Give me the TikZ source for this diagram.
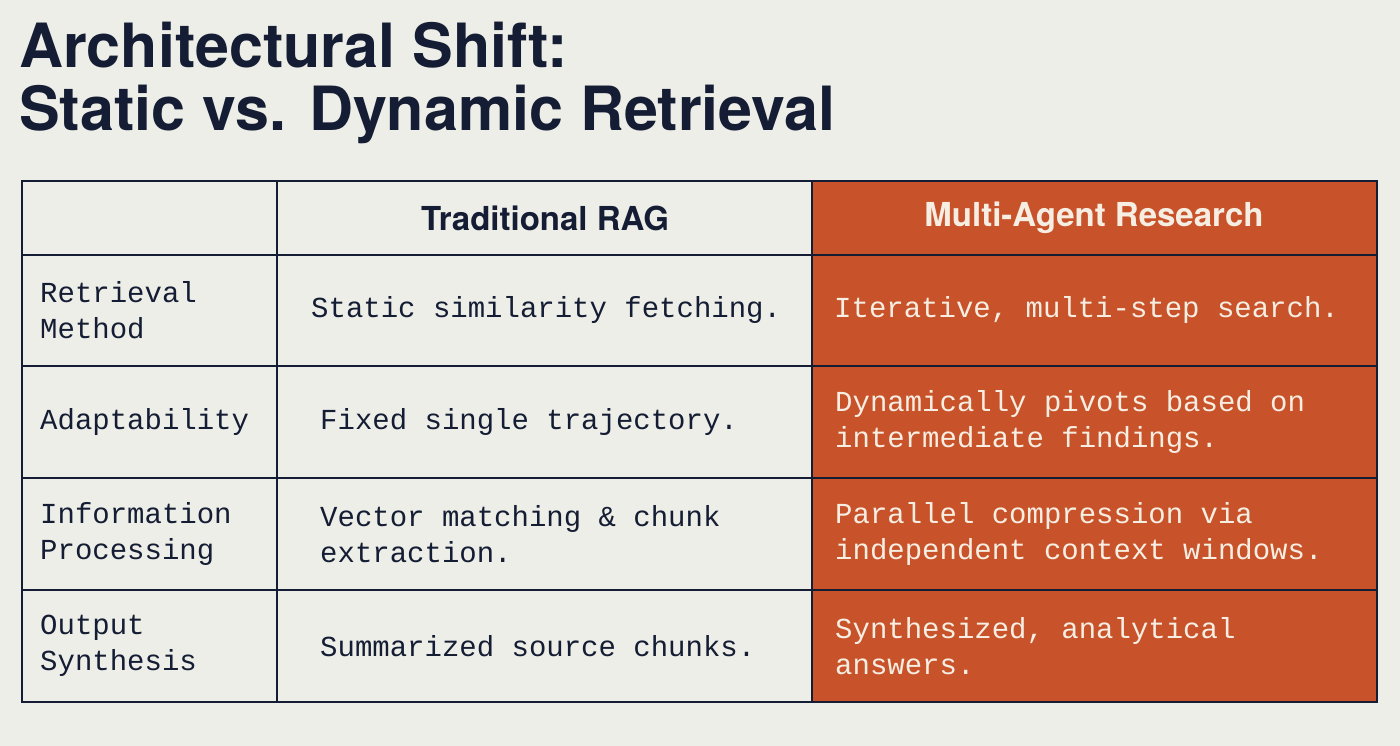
\documentclass[tikz,border=0pt]{standalone}
\usepackage{fontspec}
\setmainfont{TeX Gyre Heros}
\setmonofont{Liberation Mono}
\definecolor{bg}{HTML}{EEEEE8}
\definecolor{navy}{HTML}{141D33}
\definecolor{rust}{HTML}{C8532A}
\definecolor{cream}{HTML}{F6EEE2}
\begin{document}
\begin{tikzpicture}[x=1pt,y=-1pt,
  cell/.style={anchor=west,align=left,inner sep=0pt,font=\ttfamily\fontsize{29}{36}\selectfont,text=navy},
  ocell/.style={cell,text=cream},
  head/.style={inner sep=0pt,font=\bfseries\fontsize{33}{36}\selectfont}]
\fill[bg] (0,0) rectangle (1400,746);
\useasboundingbox (0,0) rectangle (1400,746);
\node[anchor=north west,inner sep=0pt,align=left,text=navy,font=\bfseries\fontsize{61}{63}\selectfont] (title) at (19,22) {Architectural Shift:\\Static vs. Dynamic Retrieval};
\fill[rust] (812,181) rectangle (1377,702);
\draw[navy,line width=2.5pt] (22,181) rectangle (1377,702);
\foreach \y in {255,366,478,590} \draw[navy,line width=2pt] (22,\y) -- (1377,\y);
\foreach \x in {277,812} \draw[navy,line width=2pt] (\x,181) -- (\x,702);
\node[head,text=navy] (h1) at (545,218) {Traditional RAG};
\node[head,text=cream] (h2) at (1094,218) {Multi-Agent Research};
\node[cell] (a1) at (40,310) {Retrieval\\Method};
\node[cell] (b1) at (311,310) {Static similarity fetching.};
\node[ocell] (c1) at (834,310) {Iterative, multi-step search.};
\node[cell] (a2) at (40,422) {Adaptability};
\node[cell] (b2) at (320,422) {Fixed single trajectory.};
\node[ocell] (c2) at (835,422) {Dynamically pivots based on\\intermediate findings.};
\node[cell] (a3) at (40,534) {Information\\Processing};
\node[cell] (b3) at (320,534) {Vector matching \& chunk\\extraction.};
\node[ocell] (c3) at (835,534) {Parallel compression via\\independent context windows.};
\node[cell] (a4) at (40,646) {Output\\Synthesis};
\node[cell] (b4) at (320,646) {Summarized source chunks.};
\node[ocell] (c4) at (835,646) {Synthesized, analytical\\answers.};
\end{tikzpicture}
\end{document}
